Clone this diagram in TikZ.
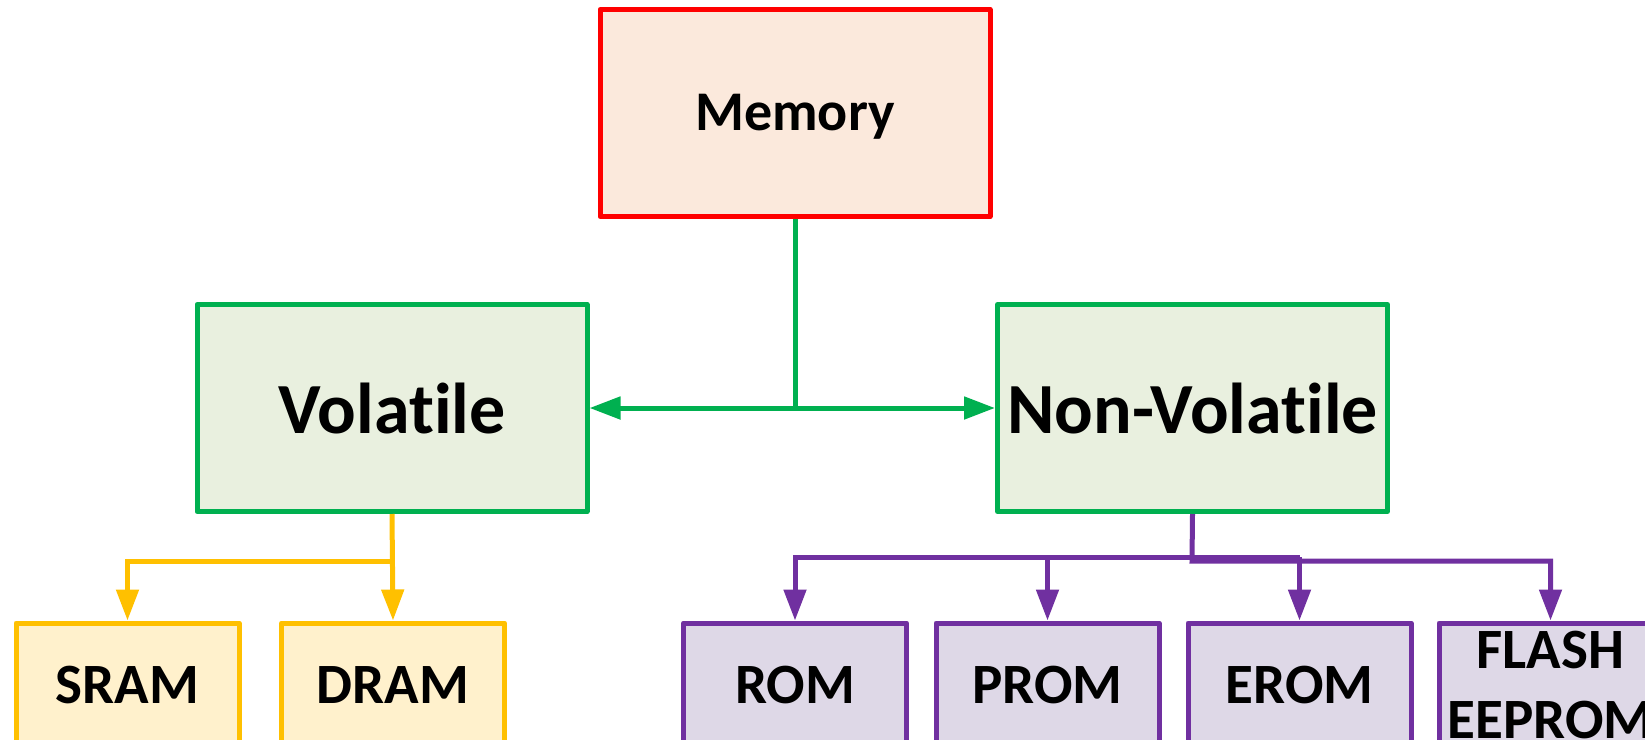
\documentclass[tikz,border=0pt]{standalone}
\usepackage{fontspec}
\setmainfont{Carlito}[BoldFont={Carlito Bold}, RawFeature={-liga;-dlig}]
\usetikzlibrary{arrows.meta}

\definecolor{memfill}{HTML}{FBE9DC}
\definecolor{memline}{HTML}{FF0000}
\definecolor{grnfill}{HTML}{E9F0DF}
\definecolor{grnline}{HTML}{00B050}
\definecolor{ylwfill}{HTML}{FFF1CC}
\definecolor{ylwline}{HTML}{FFC000}
\definecolor{purfill}{HTML}{DED8E7}
\definecolor{purline}{HTML}{7030A0}

\tikzset{
  box/.style={draw, line width=5pt, line join=round, inner sep=0pt,
    align=center, font=\bfseries},
  topbox/.style={box, fill=memfill, draw=memline, minimum width=390pt,
    minimum height=207pt, text height=40pt, text depth=5pt,
    font=\bfseries\fontsize{56}{62}\selectfont},
  midbox/.style={box, fill=grnfill, draw=grnline, minimum width=390pt,
    minimum height=207pt, font=\bfseries\fontsize{72}{80}\selectfont},
  ylwbox/.style={box, fill=ylwfill, draw=ylwline, minimum width=223pt,
    minimum height=124pt, font=\bfseries\fontsize{57}{70}\selectfont},
  purbox/.style={box, fill=purfill, draw=purline, minimum width=223pt,
    minimum height=124pt, font=\bfseries\fontsize{57}{70}\selectfont},
  link/.style={line width=5pt, -{Triangle[length=31pt,width=22pt]}},
  plain/.style={line width=5pt},
}

\begin{document}
\begin{tikzpicture}[x=1pt, y=-1pt]
\clip (0,0) rectangle (1645,739);

% boxes
\node[topbox] (mem)   at (795,113)    {Memory};
\node[midbox] (vol)   at (392,408)    {Volatile};
\node[midbox] (nv)    at (1192.5,408) {Non-Volatile};
\node[ylwbox] (sram)  at (127.5,685)  {SRAM};
\node[ylwbox] (dram)  at (393,685)    {DRAM};
\node[purbox] (rom)   at (795,685)    {ROM};
\node[purbox] (prom)  at (1047.5,685) {PROM};
\node[purbox] (erom)  at (1299.5,685) {EROM};
\node[purbox] (flash) at (1550.5,685) {FLASH\\EEPROM};

% memory splits into volatile and non-volatile
\coordinate (gj) at (mem.south |- vol.east);
\draw[plain, grnline] (mem.south) -- (gj);
\draw[link, grnline] (gj) -- (vol.east);
\draw[link, grnline] (gj) -- (nv.west);

% volatile branch
\coordinate (yb) at (392,561);
\draw[link, ylwline] (vol.south) -- (dram.north);
\draw[link, ylwline] (yb) -| (sram.north);

% non-volatile branch
\coordinate (pb) at (1192,561);
\coordinate (pu) at (1299.5,557);
\draw[link, purline] (nv.south) -- (pb) -| (flash.north);
\draw[link, purline] (pu) -| (rom.north);
\draw[link, purline] (prom.north |- pu) -- (prom.north);
\draw[link, purline] (pu) -- (erom.north);
\end{tikzpicture}
\end{document}
